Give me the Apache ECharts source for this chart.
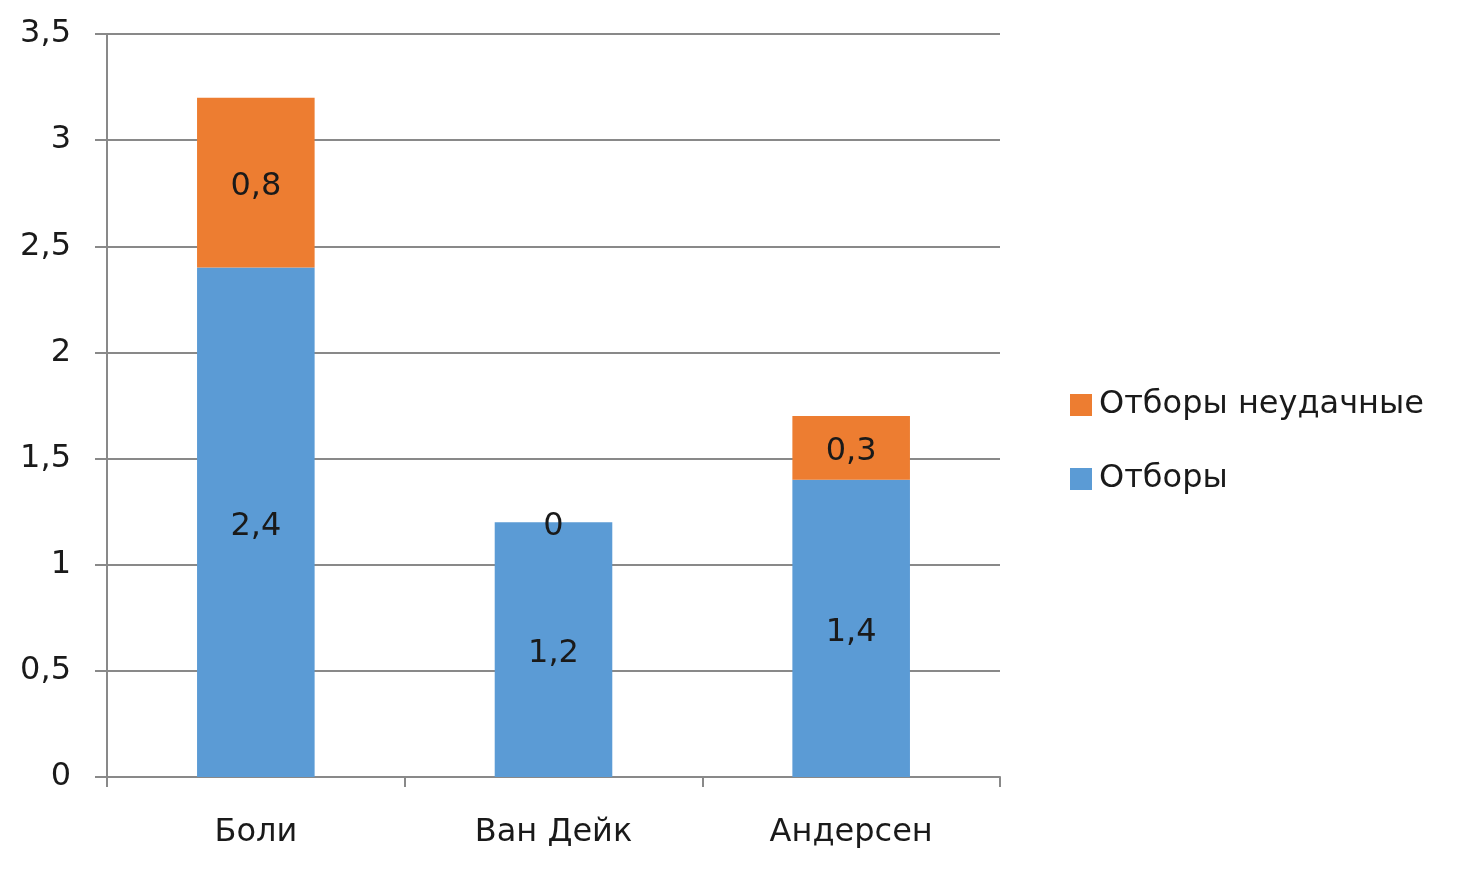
<!DOCTYPE html>
<html><head><meta charset="utf-8">
<script src="https://cdn.jsdelivr.net/npm/echarts@6/dist/echarts.min.js"></script>
<style>html,body{margin:0;padding:0;background:#fff}#c{width:1460px;height:871px}</style>
</head><body><div id="c"></div>
<script>
const categories = ['Боли', 'Ван Дейк', 'Андерсен'];
const tackles = [2.4, 1.2, 1.4];
const failedTackles = [0.8, 0, 0.3];
const seriesNames = ['Отборы', 'Отборы неудачные'];

const font = '"DejaVu Sans", Verdana, sans-serif';
const fs = 32;
const fmt = v => String(v).replace('.', ',');
const chart = echarts.init(document.getElementById('c'));
chart.setOption({
  animation: false,
  grid: {left: 107, right: 460, top: 34, bottom: 94},
  legend: {
    orient: 'vertical', left: 1065, top: 384,
    data: [seriesNames[1], seriesNames[0]],
    itemWidth: 22, itemHeight: 22, itemGap: 42,
    icon: 'rect',
    textStyle: {fontFamily: font, fontSize: fs, color: '#1a1a1a', padding: [0, 0, 0, 2]}
  },
  xAxis: {
    type: 'category', data: categories,
    axisLine: {lineStyle: {color: '#898989', width: 2}},
    axisTick: {show: true, length: 10, lineStyle: {color: '#898989', width: 2}},
    axisLabel: {fontFamily: font, fontSize: fs, color: '#1a1a1a', margin: 40}
  },
  yAxis: {
    type: 'value', min: 0, max: 3.5, interval: 0.5,
    axisLine: {show: true, lineStyle: {color: '#898989', width: 2}},
    axisTick: {show: true, length: 12, lineStyle: {color: '#898989', width: 2}},
    splitLine: {lineStyle: {color: '#898989', width: 2}},
    axisLabel: {fontFamily: font, fontSize: fs, color: '#1a1a1a', margin: 36, padding: [7, 0, 0, 0], formatter: fmt}
  },
  series: [
    {name: seriesNames[0], type: 'bar', stack: 's', data: tackles, barWidth: '39.5%',
     itemStyle: {color: '#5B9BD5'},
     label: {show: true, position: 'inside', offset: [0, 4], fontFamily: font, fontSize: fs, color: '#1a1a1a', formatter: p => fmt(p.value)}},
    {name: seriesNames[1], type: 'bar', stack: 's', data: failedTackles, barWidth: '39.5%',
     itemStyle: {color: '#ED7D31'},
     label: {show: true, position: 'inside', offset: [0, 4], fontFamily: font, fontSize: fs, color: '#1a1a1a', formatter: p => fmt(p.value)}}
  ]
});
</script></body></html>
